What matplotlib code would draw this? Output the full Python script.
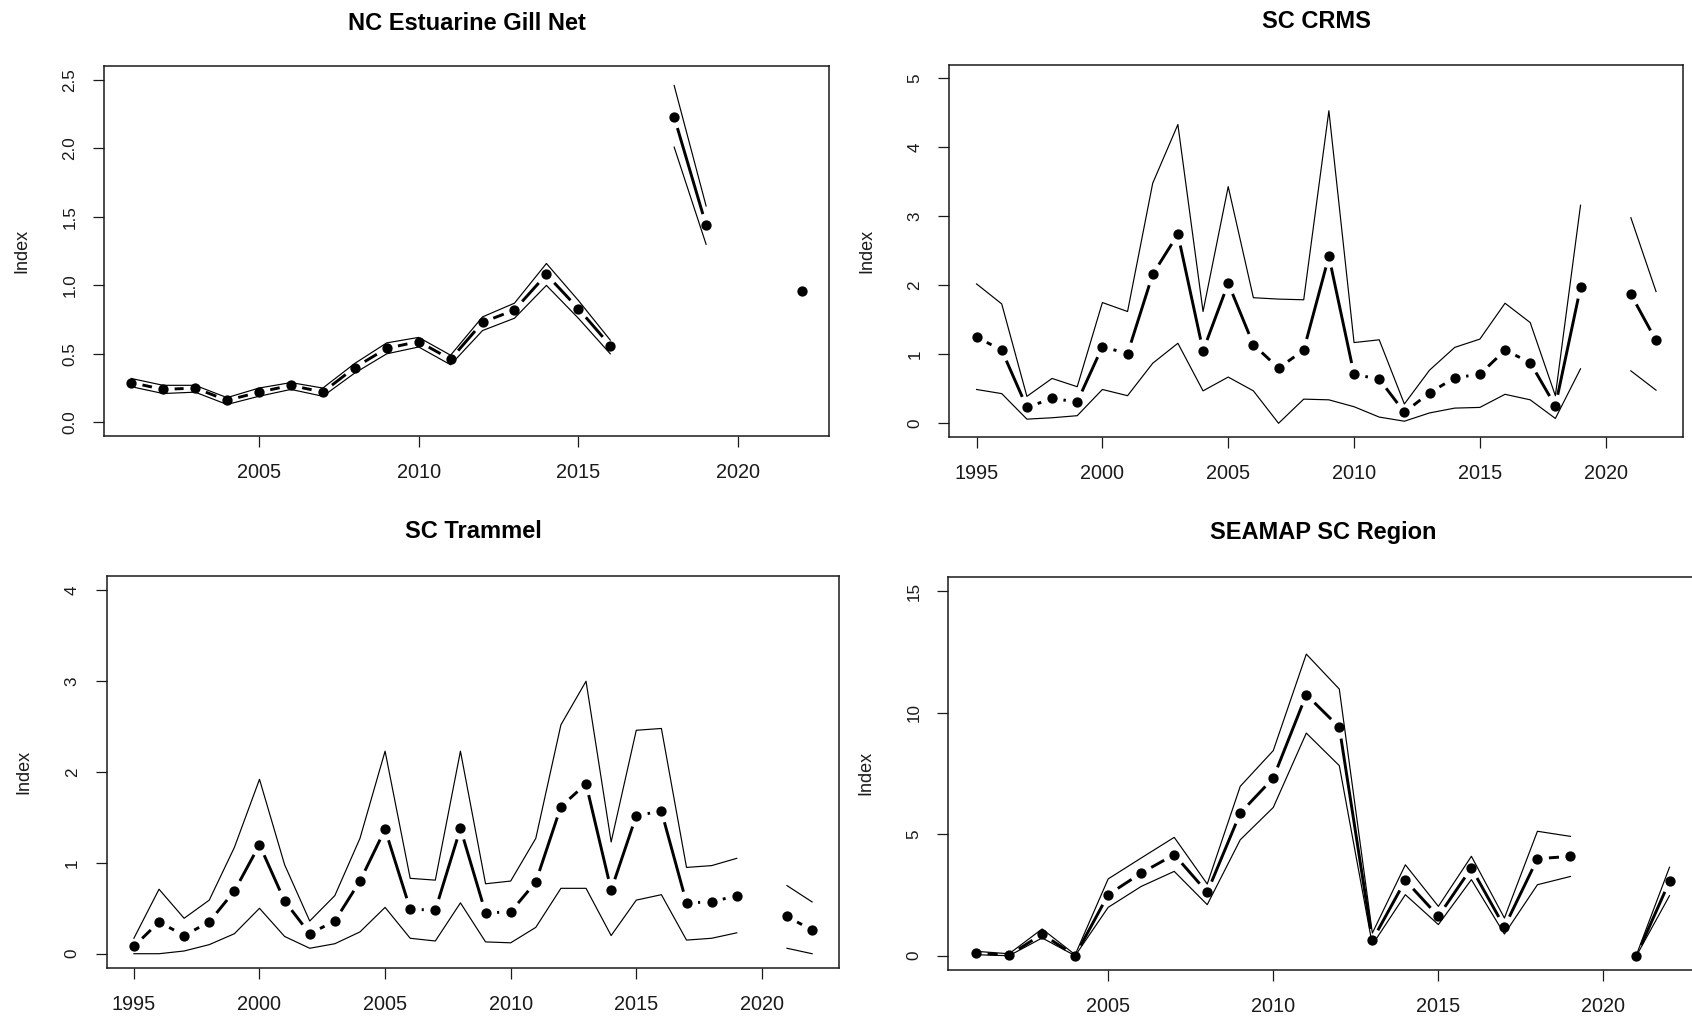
import numpy as np
import matplotlib
matplotlib.use("Agg")
import matplotlib.pyplot as plt

plt.rcParams["font.family"] = ["Liberation Sans", "DejaVu Sans"]

NA = None

# ---- NC Estuarine Gill Net ----
nc_years = list(range(2001, 2023))
nc_est = [0.29, 0.24, 0.25, 0.16, 0.22, 0.27, 0.22, 0.40, 0.54, 0.59, 0.46, 0.73, 0.82, 1.08,
          0.83, 0.56, NA, 2.23, 1.44, NA, NA, 0.96]
nc_hi = [0.32, 0.27, 0.27, 0.18, 0.25, 0.29, 0.25, 0.43, 0.58, 0.62, 0.49, 0.77, 0.87, 1.16,
         0.89, 0.60, NA, 2.46, 1.58, NA, NA, NA]
nc_lo = [0.26, 0.21, 0.22, 0.13, 0.19, 0.24, 0.19, 0.36, 0.50, 0.55, 0.42, 0.67, 0.76, 1.00,
         0.76, 0.50, NA, 2.01, 1.30, NA, NA, NA]

# ---- SC CRMS ----
crms_years = list(range(1995, 2023))
crms_est = [1.25, 1.06, 0.23, 0.36, 0.31, 1.11, 1.01, 2.16, 2.74, 1.05, 2.03, 1.14, 0.80, 1.06,
            2.42, 0.71, 0.64, 0.16, 0.44, 0.66, 0.71, 1.06, 0.88, 0.25, 1.97, NA, 1.87, 1.20]
crms_hi = [2.02, 1.73, 0.39, 0.65, 0.53, 1.75, 1.62, 3.48, 4.33, 1.62, 3.43, 1.82, 1.80, 1.79,
           4.53, 1.17, 1.21, 0.28, 0.77, 1.10, 1.22, 1.74, 1.46, 0.40, 3.16, NA, 2.98, 1.91]
crms_lo = [0.49, 0.43, 0.06, 0.08, 0.11, 0.49, 0.40, 0.87, 1.16, 0.47, 0.67, 0.47, 0.00, 0.35,
           0.34, 0.24, 0.09, 0.03, 0.15, 0.22, 0.23, 0.42, 0.34, 0.07, 0.79, NA, 0.76, 0.48]

# ---- SC Trammel ----
tram_years = list(range(1995, 2023))
tram_est = [0.08, 0.35, 0.20, 0.35, 0.69, 1.20, 0.58, 0.22, 0.36, 0.80, 1.37, 0.49, 0.48, 1.38,
            0.45, 0.46, 0.79, 1.62, 1.87, 0.70, 1.52, 1.57, 0.56, 0.57, 0.64, NA, 0.41, 0.26]
tram_hi = [0.17, 0.71, 0.39, 0.59, 1.17, 1.92, 0.98, 0.36, 0.64, 1.27, 2.23, 0.83, 0.81, 2.23,
           0.77, 0.80, 1.27, 2.52, 3.00, 1.23, 2.46, 2.48, 0.95, 0.97, 1.05, NA, 0.75, 0.57]
tram_lo = [0.00, 0.00, 0.03, 0.10, 0.22, 0.50, 0.19, 0.06, 0.11, 0.24, 0.51, 0.17, 0.14, 0.56,
           0.13, 0.12, 0.29, 0.72, 0.72, 0.20, 0.59, 0.65, 0.15, 0.17, 0.23, NA, 0.06, 0.00]

# ---- SEAMAP SC Region ----
sea_years = list(range(2001, 2023))
sea_est = [0.11, 0.02, 0.89, 0.00, 2.51, 3.40, 4.16, 2.61, 5.87, 7.31, 10.74, 9.40, 0.63, 3.10,
           1.62, 3.61, 1.18, 3.99, 4.09, NA, 0.00, 3.06]
sea_hi = [0.18, 0.08, 1.10, 0.04, 3.16, 4.02, 4.87, 2.95, 6.97, 8.44, 12.41, 10.97, 0.93, 3.74,
          2.03, 4.09, 1.55, 5.12, 4.91, NA, 0.04, 3.64]
sea_lo = [0.04, 0.00, 0.73, 0.00, 1.99, 2.85, 3.47, 2.10, 4.77, 6.10, 9.16, 7.82, 0.45, 2.51,
          1.28, 3.13, 0.89, 2.92, 3.26, NA, 0.00, 2.47]

panels = [
    dict(title="NC Estuarine Gill Net", years=nc_years, est=nc_est, lo=nc_lo, hi=nc_hi,
         ymax=2.5, yticks=[0.0, 0.5, 1.0, 1.5, 2.0, 2.5], ylabels=["0.0", "0.5", "1.0", "1.5", "2.0", "2.5"],
         xticks=[2005, 2010, 2015, 2020], pos=[0.0617, 0.5709, 0.4281, 0.3638], tpad=26.5),
    dict(title="SC CRMS", years=crms_years, est=crms_est, lo=crms_lo, hi=crms_hi,
         ymax=5, yticks=[0, 1, 2, 3, 4, 5], ylabels=["0", "1", "2", "3", "4", "5"],
         xticks=[1995, 2000, 2005, 2010, 2015, 2020], pos=[0.5611, 0.5698, 0.4337, 0.3667], tpad=26.5),
    dict(title="SC Trammel", years=tram_years, est=tram_est, lo=tram_lo, hi=tram_hi,
         ymax=4, yticks=[0, 1, 2, 3, 4], ylabels=["0", "1", "2", "3", "4"],
         xticks=[1995, 2000, 2005, 2010, 2015, 2020], pos=[0.0631, 0.0470, 0.4329, 0.3862], tpad=27),
    dict(title="SEAMAP SC Region", years=sea_years, est=sea_est, lo=sea_lo, hi=sea_hi,
         ymax=15, yticks=[0, 5, 10, 15], ylabels=["0", "5", "10", "15"],
         xticks=[2005, 2010, 2015, 2020], pos=[0.5605, 0.0450, 0.4426, 0.3875], tpad=27),
]

W, H, DPI = 1692, 1016, 100
fig = plt.figure(figsize=(W / DPI, H / DPI), dpi=DPI)


def arr(v):
    return np.array([np.nan if x is None else x for x in v], dtype=float)


def r_range(lo, hi):
    ext = 0.04 * (hi - lo)
    return lo - ext, hi + ext


def lines_with_gaps(ax, x, y, gap_px, **kw):
    """Base-R style type='b' line: segments stop short of each point."""
    fig.canvas.draw()
    tr = ax.transData
    inv = tr.inverted()
    for i in range(len(x) - 1):
        if np.isnan(y[i]) or np.isnan(y[i + 1]):
            continue
        p0 = tr.transform((x[i], y[i]))
        p1 = tr.transform((x[i + 1], y[i + 1]))
        d = p1 - p0
        L = np.hypot(*d)
        if L <= 2 * gap_px:
            continue
        u = d / L
        q0 = inv.transform(p0 + u * gap_px)
        q1 = inv.transform(p1 - u * gap_px)
        ax.plot([q0[0], q1[0]], [q0[1], q1[1]], solid_capstyle="butt", **kw)


for p in panels:
    ax = fig.add_axes(p["pos"])
    x = np.array(p["years"], dtype=float)
    est, lo, hi = arr(p["est"]), arr(p["lo"]), arr(p["hi"])

    ax.set_xlim(*r_range(x.min(), x.max()))
    ax.set_ylim(*r_range(0, p["ymax"]))

    ax.plot(x, hi, color="black", lw=0.85)
    ax.plot(x, lo, color="black", lw=0.85)
    ax.plot(x, est, linestyle="none", marker="o", color="black", markersize=6.4)
    lines_with_gaps(ax, x, est, 11.5, color="black", lw=2.1)

    ax.set_xticks(p["xticks"])
    ax.set_xticklabels([str(t) for t in p["xticks"]], fontsize=14.3)
    ax.set_yticks(p["yticks"])
    ax.set_yticklabels(p["ylabels"], fontsize=12.3)
    ax.tick_params(axis="y", labelrotation=90, length=8, width=0.9, pad=11.5, colors="#1a1a1a")
    ax.tick_params(axis="x", length=8, width=0.9, pad=11.5, colors="#1a1a1a")
    for lab in ax.get_yticklabels():
        lab.set_verticalalignment("center")
    for s in ax.spines.values():
        s.set_linewidth(1.1)
        s.set_color("#1a1a1a")

    ax.set_ylabel("Index", fontsize=13, labelpad=23, color="#1a1a1a")
    ax.set_title(p["title"], fontsize=17, fontweight="bold", pad=p["tpad"])

fig.savefig("out.png", dpi=DPI, facecolor="white")
